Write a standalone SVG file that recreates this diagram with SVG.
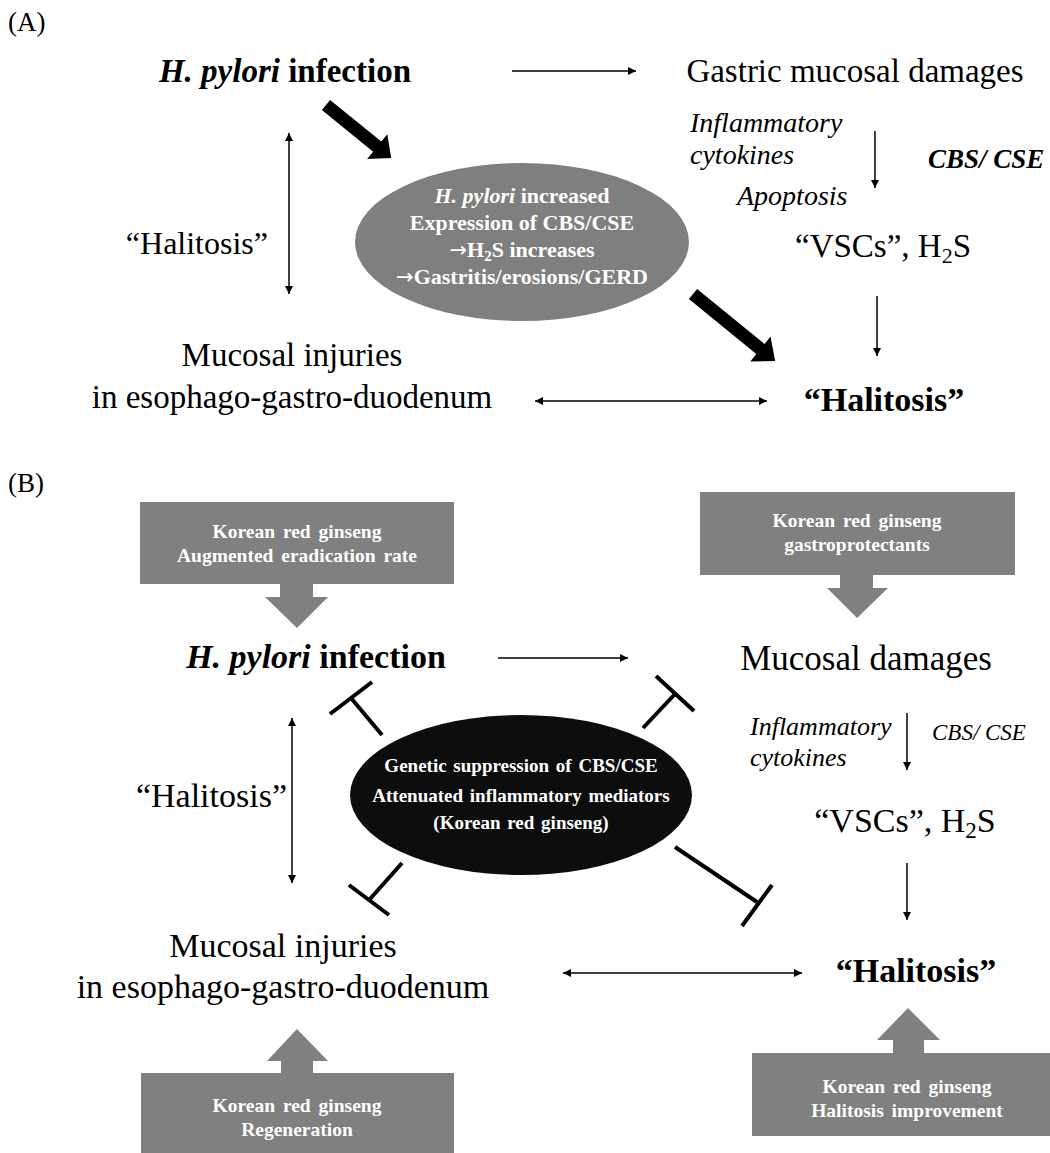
<svg xmlns="http://www.w3.org/2000/svg" width="1050" height="1153" viewBox="0 0 1050 1153">
<defs>
<marker id="ah" viewBox="0 0 10 10" refX="10" refY="5" markerWidth="9" markerHeight="8" markerUnits="userSpaceOnUse" orient="auto-start-reverse">
<path d="M0,0 L10,5 L0,10 z" fill="#000"/>
</marker>
<style>
text{font-family:"Liberation Serif","Times New Roman",serif;fill:#000}
.t{font-size:33px}
.tb{font-size:34px;font-weight:bold}
.it{font-style:italic}
.w{fill:#fff;font-weight:bold;font-size:22px}
.wk{fill:#fff;font-weight:bold;font-size:19px;word-spacing:2px}
.wb{fill:#fff;font-weight:bold;font-size:19.5px;word-spacing:3px}
.arr{font-family:"DejaVu Sans",sans-serif;font-weight:normal;font-size:21px}
.thin{stroke:#000;stroke-width:1.5;fill:none}
.inh{stroke:#000;stroke-width:4;fill:none}
.gray{fill:#808080}
</style>
</defs>

<text x="8" y="31" style="font-size:27px">(A)</text>
<text x="8" y="492" style="font-size:27px">(B)</text>

<g id="connectors">
<!-- Panel A -->
<line class="thin" x1="512" y1="71" x2="636" y2="71" marker-end="url(#ah)"/>
<line class="thin" x1="875" y1="131" x2="875" y2="188" marker-end="url(#ah)"/>
<line class="thin" x1="877" y1="296" x2="877" y2="356" marker-end="url(#ah)"/>
<line class="thin" x1="289" y1="133" x2="289" y2="294" marker-start="url(#ah)" marker-end="url(#ah)"/>
<line class="thin" x1="535" y1="401" x2="767" y2="401" marker-start="url(#ah)" marker-end="url(#ah)"/>
<polygon transform="translate(326,105) rotate(39.1)" points="0,-6.5 66,-6.5 66,-16 84,0 66,16 66,6.5 0,6.5" fill="#000"/>
<polygon transform="translate(693,294) rotate(39.2)" points="0,-6.5 87,-6.5 87,-16 106,0 87,16 87,6.5 0,6.5" fill="#000"/>
<!-- Panel B -->
<line class="thin" x1="498" y1="658" x2="628" y2="658" marker-end="url(#ah)"/>
<line class="thin" x1="907" y1="713" x2="907" y2="770" marker-end="url(#ah)"/>
<line class="thin" x1="907" y1="863" x2="907" y2="920" marker-end="url(#ah)"/>
<line class="thin" x1="292" y1="718" x2="292" y2="883" marker-start="url(#ah)" marker-end="url(#ah)"/>
<line class="thin" x1="563" y1="973" x2="802" y2="973" marker-start="url(#ah)" marker-end="url(#ah)"/>
<!-- inhibitors -->
<line class="inh" x1="382" y1="735" x2="351" y2="698"/>
<line class="inh" x1="330" y1="714" x2="372" y2="682"/>
<line class="inh" x1="643" y1="728" x2="675" y2="694"/>
<line class="inh" x1="656" y1="676" x2="694" y2="711"/>
<line class="inh" x1="402" y1="863" x2="370" y2="899"/>
<line class="inh" x1="349" y1="885" x2="389" y2="915"/>
<line class="inh" x1="675" y1="847" x2="757" y2="902"/>
<line class="inh" x1="772" y1="885" x2="742" y2="926"/>
</g>

<!-- Panel A nodes -->
<g id="a-hpylori">
<text x="285" y="82" text-anchor="middle" class="tb" style="font-size:33px"><tspan font-style="italic">H. pylori</tspan> infection</text>
</g>
<g id="a-gastric">
<text x="855" y="82" text-anchor="middle" class="t">Gastric mucosal damages</text>
</g>
<g id="a-cytokines">
<text x="690" y="132" class="it" style="font-size:28px">Inflammatory</text>
<text x="690" y="164" class="it" style="font-size:28px">cytokines</text>
</g>
<g id="a-apoptosis">
<text x="737" y="205" class="it" style="font-size:28px">Apoptosis</text>
</g>
<g id="a-cbs">
<text x="928" y="168" style="font-size:27px;font-style:italic;font-weight:bold">CBS/ CSE</text>
</g>
<g id="a-vscs">
<text x="883" y="257" text-anchor="middle" class="t">“VSCs”, H<tspan dy="6" style="font-size:22px">2</tspan><tspan dy="-6">S</tspan></text>
</g>
<g id="a-halitosis-left">
<text x="268" y="254" text-anchor="end" class="t" style="font-size:32px">“Halitosis”</text>
</g>
<g id="a-ellipse">
<ellipse cx="522" cy="242" rx="167" ry="79" fill="#7f7f7f"/>
<text x="522" y="203" text-anchor="middle" class="w"><tspan font-style="italic">H. pylori</tspan> increased</text>
<text x="522" y="230" text-anchor="middle" class="w">Expression of CBS/CSE</text>
<text x="522" y="257" text-anchor="middle" class="w"><tspan class="arr">→</tspan>H<tspan dy="4" style="font-size:15px">2</tspan><tspan dy="-4">S increases</tspan></text>
<text x="522" y="284" text-anchor="middle" class="w"><tspan class="arr">→</tspan>Gastritis/erosions/GERD</text>
</g>
<g id="a-mucosal">
<text x="292" y="366" text-anchor="middle" class="t">Mucosal injuries</text>
<text x="292" y="408" text-anchor="middle" class="t">in esophago-gastro-duodenum</text>
</g>
<g id="a-halitosis">
<text x="884" y="411" text-anchor="middle" class="tb">“Halitosis”</text>
</g>

<!-- Panel B nodes -->
<g id="b-box-eradication">
<rect x="140" y="502" width="314" height="82" class="gray"/>
<polygon points="280,583 313,583 313,597 328,597 297,628 265,597 280,597" class="gray"/>
<text x="297" y="538" text-anchor="middle" class="wb">Korean red ginseng</text>
<text x="297" y="562" text-anchor="middle" class="wb">Augmented eradication rate</text>
</g>
<g id="b-box-gastro">
<rect x="700" y="492" width="315" height="83" class="gray"/>
<polygon points="840,574 873,574 873,588 888,588 857,618 827,588 840,588" class="gray"/>
<text x="857" y="527" text-anchor="middle" class="wb">Korean red ginseng</text>
<text x="857" y="551" text-anchor="middle" class="wb">gastroprotectants</text>
</g>
<g id="b-hpylori">
<text x="316" y="668" text-anchor="middle" class="tb"><tspan font-style="italic">H. pylori</tspan> infection</text>
</g>
<g id="b-mucosal-damages">
<text x="866" y="670" text-anchor="middle" class="t" style="font-size:35px">Mucosal damages</text>
</g>
<g id="b-cytokines">
<text x="750" y="735" class="it" style="font-size:26px">Inflammatory</text>
<text x="750" y="766" class="it" style="font-size:26px">cytokines</text>
</g>
<g id="b-cbs">
<text x="932" y="740" class="it" style="font-size:23px">CBS/ CSE</text>
</g>
<g id="b-vscs">
<text x="905" y="832" text-anchor="middle" class="t" style="font-size:34px">“VSCs”, H<tspan dy="6" style="font-size:23px">2</tspan><tspan dy="-6">S</tspan></text>
</g>
<g id="b-halitosis-left">
<text x="287" y="807" text-anchor="end" class="t" style="font-size:34px">“Halitosis”</text>
</g>
<g id="b-ellipse">
<ellipse cx="521" cy="795" rx="171" ry="80" fill="#0d0d0d"/>
<text x="521" y="772" text-anchor="middle" class="wk">Genetic suppression of CBS/CSE</text>
<text x="521" y="802" text-anchor="middle" class="wk">Attenuated inflammatory mediators</text>
<text x="521" y="829" text-anchor="middle" class="wk">(Korean red ginseng)</text>
</g>
<g id="b-mucosal-injuries">
<text x="283" y="957" text-anchor="middle" class="t" style="font-size:34px">Mucosal injuries</text>
<text x="283" y="998" text-anchor="middle" class="t" style="font-size:34px">in esophago-gastro-duodenum</text>
</g>
<g id="b-halitosis">
<text x="916" y="982" text-anchor="middle" class="tb">“Halitosis”</text>
</g>
<g id="b-box-regeneration">
<rect x="141" y="1073" width="313" height="80" class="gray"/>
<polygon points="281,1074 313,1074 313,1061 328,1061 297,1029 267,1061 281,1061" class="gray"/>
<text x="297" y="1112" text-anchor="middle" class="wb">Korean red ginseng</text>
<text x="297" y="1136" text-anchor="middle" class="wb">Regeneration</text>
</g>
<g id="b-box-halitosis">
<rect x="752" y="1053" width="310" height="83" class="gray"/>
<polygon points="893,1054 924,1054 924,1040 940,1040 908,1008 877,1040 893,1040" class="gray"/>
<text x="907" y="1093" text-anchor="middle" class="wb">Korean red ginseng</text>
<text x="907" y="1117" text-anchor="middle" class="wb">Halitosis improvement</text>
</g>
</svg>
